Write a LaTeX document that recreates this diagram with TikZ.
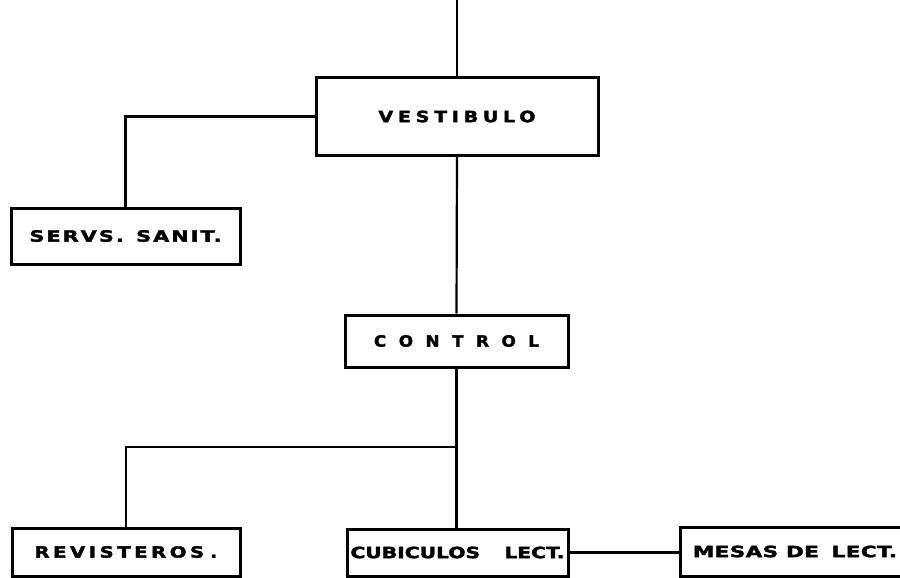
\documentclass[tikz,border=0pt]{standalone}
\usepackage{fontspec}
\usepackage{graphicx}
\newfontfamily\labfont{DejaVu Sans}
\newcommand{\lbl}[3]{\resizebox{#1pt}{11.5pt}{\labfont\bfseries\addfontfeature{LetterSpace=#2,FakeBold=2}#3}}
\begin{document}
\begin{tikzpicture}[x=1pt,y=-1pt,
  box/.style={draw=black,line width=3pt,inner sep=0pt,fill=white},
  conn/.style={draw=black,line width=2.2pt}]
\useasboundingbox (0,0) rectangle (900,578);
\clip (0,0) rectangle (900,578);
\fill[white] (0,0) rectangle (900,578);
\node[box,minimum width=282pt,minimum height=77pt] (v) at (457,116.5) {\lbl{157}{25}{VESTIBULO}};
\node[box,minimum width=229pt,minimum height=56pt] (s) at (125.5,236) {\lbl{192}{10}{SERVS.\hspace{0.6em}SANIT.}};
\node[box,minimum width=223pt,minimum height=52pt] (c) at (456.5,341) {\lbl{165}{75}{CONTROL}};
\node[box,minimum width=228pt,minimum height=48pt] (r) at (126,552) {\lbl{183}{18}{REVISTEROS\hspace{0.3em}.}};
\node[box,minimum width=221pt,minimum height=47pt] (cu) at (457.5,552.5) {\lbl{214}{0}{CUBICULOS\hspace{1.2em}LECT.}};
\node[box,minimum width=230pt,minimum height=49pt] (m) at (795,551.5) {\lbl{204}{2}{MESAS DE\hspace{0.6em}LECT.}};
\coordinate (top) at (457,-2);
\coordinate (j) at (456.5,447);
\draw[conn] (top) -- (v.north);
\draw[conn] (v.west) -| (s.north);
\draw[conn] (v.south) -- (c.north);
\draw[conn] (c.south) -- (c.south |- cu.north);
\draw[conn] (j) -| (r.north);
\draw[conn] (cu.east) -- (cu.east -| m.west);
\end{tikzpicture}
\end{document}
